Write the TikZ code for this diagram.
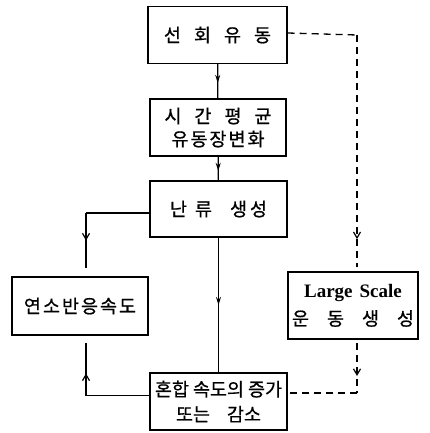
\documentclass[tikz,border=0pt]{standalone}
\usepackage{fontspec}
\setmainfont{Liberation Serif}
\newfontfamily\kr[FakeBold=0.8]{Noto Sans CJK KR}
\usetikzlibrary{arrows.meta,decorations.markings,calc}

\newcommand{\g}[1]{\hspace{#1pt}}

\tikzset{
  box/.style={draw, line width=1.4pt, rectangle, inner sep=0pt, align=center,
    font=\kr\fontsize{18.5}{23}\selectfont},
  link/.style={line width=1.3pt},
  dlink/.style={line width=1.3pt, dash pattern=on 7pt off 5pt},
  midsolid/.style={decoration={markings,
      mark=at position #1 with {\arrow{Stealth[length=8pt,width=5pt]}}},
    postaction=decorate},
  midbarb/.style={decoration={markings,
      mark=at position #1 with {\arrow[solid]{Straight Barb[length=6pt,width=7pt,line width=1.2pt]}}},
    postaction=decorate},
}

\begin{document}
\begin{tikzpicture}[x=1pt,y=-1pt]
  \useasboundingbox (0,0) rectangle (429,433);

  % boxes
  \node[box, minimum width=139pt, minimum height=57pt] (b1) at (217.5,35)
    {선\g{13}회\g{13}유\g{13}동};
  \node[box, minimum width=136pt, minimum height=57pt] (b2) at (218,127.5)
    {시\g{13}간\g{13}평\g{13}균\\유\g{2}동\g{2}장\g{2}변\g{2}화};
  \node[box, minimum width=137pt, minimum height=56pt] (b3) at (218.5,209)
    {난\g{8}류\g{18}생\g{3}성};
  \node[box, minimum width=136pt, minimum height=58pt] (b4) at (80,306)
    {연\g{2}소\g{2}반\g{2}응\g{2}속\g{2}도};
  \node[box, minimum width=130pt, minimum height=67pt] (b5) at (353,305.5)
    {{\rmfamily\bfseries\fontsize{19}{23}\selectfont Large\g{7}Scale}\\[5pt]운\g{18}동\g{18}생\g{18}성};
  \node[box, minimum width=137pt, minimum height=57pt] (b6) at (218.5,401.5)
    {혼합\g{4}속도의\g{4}증가\\[2pt]또는\g{17}감소};

  % free ends of the connectors
  \coordinate (c1) at (86,213);
  \coordinate (l1) at (86,268);
  \coordinate (c2) at (86,395.5);
  \coordinate (l2) at (86,343);
  \coordinate (d1) at (357,35);
  \coordinate (d2) at (357,267);
  \coordinate (d3) at (357,343);
  \coordinate (d4) at (357,393);

  % main flow
  \draw[link, midsolid=0.55] (b1) -- (b2);
  \draw[link, midsolid=0.6] (b2) -- (b3);
  \draw[link, midsolid=0.5] (b3) -- (b6);

  % feedback loop through the reaction rate
  \draw[link] ([yshift=-4pt]b3.west) -- (c1);
  \draw[link, midbarb=0.5] (c1) -- (l1);
  \draw[link] ([yshift=6pt]b6.west) -- (c2);
  \draw[link, midbarb=0.42] (c2) -- (l2);

  % large scale motion path
  \draw[dlink] ([yshift=2pt]b1.east) -- (d1);
  \draw[dlink, midbarb=0.88] (d1) -- (d2);
  \draw[dlink, midbarb=0.66] (d3) -- (d4);
  \draw[dlink] (d4) -- ([yshift=8.5pt]b6.east);
\end{tikzpicture}
\end{document}
